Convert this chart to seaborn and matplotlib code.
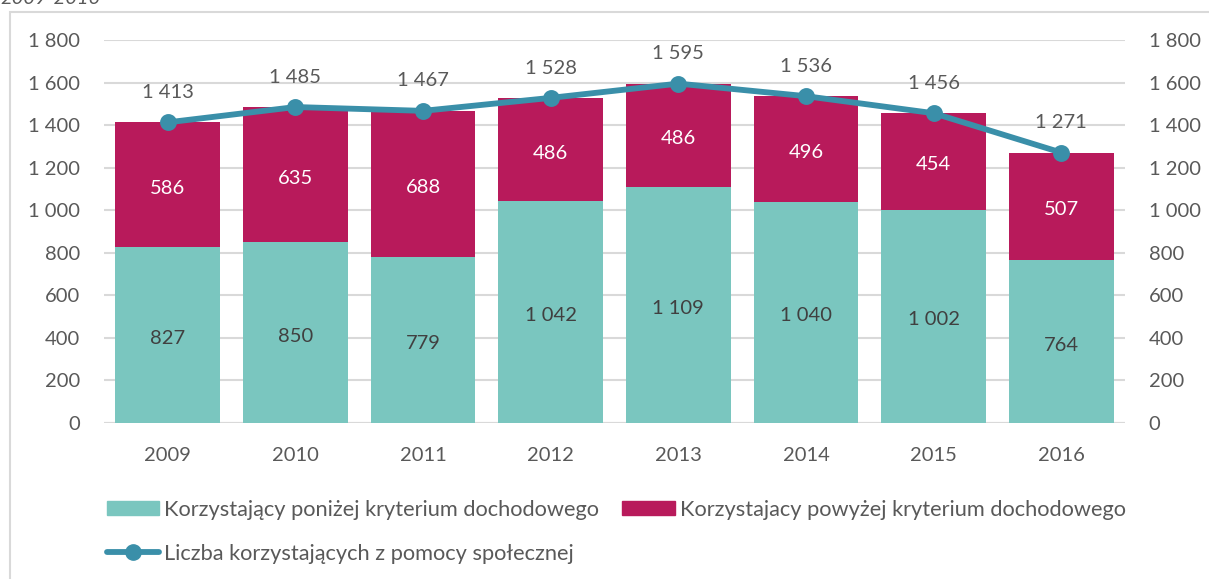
import matplotlib
matplotlib.use("Agg")
import matplotlib.pyplot as plt
import seaborn as sns
import numpy as np
import pandas as pd
from matplotlib.patches import Patch, Rectangle
from matplotlib.lines import Line2D

years = ["2009", "2010", "2011", "2012", "2013", "2014", "2015", "2016"]
below = [827, 850, 779, 1042, 1109, 1040, 1002, 764]
above = [586, 635, 688, 486, 486, 496, 454, 507]
totals = [1413, 1485, 1467, 1528, 1595, 1536, 1456, 1271]
yticks = [0, 200, 400, 600, 800, 1000, 1200, 1400, 1600, 1800]

label_below = "Korzystający poniżej kryterium dochodowego"
label_above = "Korzystajacy powyżej kryterium dochodowego"
label_total = "Liczba korzystających z pomocy społecznej"
title = "2009-2016"

C_TEAL = "#7AC6BF"
C_MAG = "#B81A5B"
C_LINE = "#3A8FA9"
C_TXT = "#595959"
C_GRID = "#D9D9D9"

sns.set_theme(style="white")
plt.rcParams["font.family"] = ["Lato", "DejaVu Sans"]

def fmt(v):
    return f"{v:,}".replace(",", " ")

df = pd.DataFrame({"year": years, "below": below, "above": above, "total": totals})

fig = plt.figure(figsize=(12.09, 5.79), dpi=100)
ax = fig.add_axes([104/1209, 1-423/579, (1125-104)/1209, (423-40)/579])

sns.barplot(data=df, x="year", y="below", color=C_TEAL, width=0.82,
            linewidth=0, saturation=1, ax=ax, zorder=2)
sns.barplot(data=df, x="year", y="above", bottom=df["below"], color=C_MAG,
            width=0.82, linewidth=0, saturation=1, ax=ax, zorder=2)
sns.pointplot(data=df, x="year", y="total", color=C_LINE, markers="o",
              markersize=9, linewidth=4.2, ax=ax, zorder=4)
for c in ax.collections + ax.lines:
    c.set_zorder(4)

ax.set_xlim(-0.5, 7.5)
ax.set_ylim(0, 1800)
ax.set_yticks(yticks)
ax.set_yticklabels([fmt(v) for v in yticks])
ax.grid(axis="y", color=C_GRID, lw=1.5, zorder=0)
ax.set_axisbelow(True)
for s in ax.spines.values():
    s.set_visible(False)
ax.axhline(0, color=C_GRID, lw=1.5, zorder=1)
ax.set_xlabel("")
ax.set_ylabel("")
ax.tick_params(axis="both", length=0, labelsize=14.5, labelcolor=C_TXT)
ax.tick_params(axis="y", pad=17)
ax.tick_params(axis="x", pad=17)

ax2 = ax.twinx()
ax2.set_ylim(0, 1800)
ax2.set_yticks(yticks)
ax2.set_yticklabels([fmt(v) for v in yticks])
ax2.tick_params(axis="y", length=0, labelsize=14.5, labelcolor=C_TXT, pad=17)
for s in ax2.spines.values():
    s.set_visible(False)
ax2.grid(False)

for i in range(len(years)):
    ax.annotate(fmt(below[i]), (i, below[i] / 2), xytext=(0, -2.5),
                textcoords="offset points", ha="center", va="center",
                fontsize=14.5, color="#404040", zorder=5)
    ax.annotate(fmt(above[i]), (i, below[i] + above[i] / 2), xytext=(0, -2.5),
                textcoords="offset points", ha="center", va="center",
                fontsize=14.5, color="white", zorder=5)
    ax.annotate(fmt(totals[i]), (i, totals[i]), xytext=(0, 21.5),
                textcoords="offset points", ha="center", va="center",
                fontsize=14.5, color=C_TXT, zorder=5)

handles = [Patch(color=C_TEAL, label=label_below),
           Line2D([0], [0], color=C_LINE, lw=4.2, marker="o", markersize=11,
                  label=label_total),
           Patch(color=C_MAG, label=label_above)]
leg = fig.legend(handles=handles, ncol=2, loc="upper left",
                 bbox_to_anchor=(107/1209, 1-500/579), frameon=False,
                 fontsize=15.7, handlelength=2.4, handleheight=0.6,
                 handletextpad=0.23, columnspacing=1.05, labelspacing=1.08,
                 borderaxespad=0, borderpad=0)
for t in leg.get_texts():
    t.set_color(C_TXT)

fig.patches.append(Rectangle((10/1209, -0.05), 1.1, 1 - 12/579 + 0.05,
                             transform=fig.transFigure, fill=False,
                             edgecolor=C_GRID, lw=1.5, zorder=0))
fig.text(0.0, 1 + 2/579, title, fontsize=14.5, style="italic", color=C_TXT,
         ha="left", va="center")

fig.savefig("out.png", dpi=100)
